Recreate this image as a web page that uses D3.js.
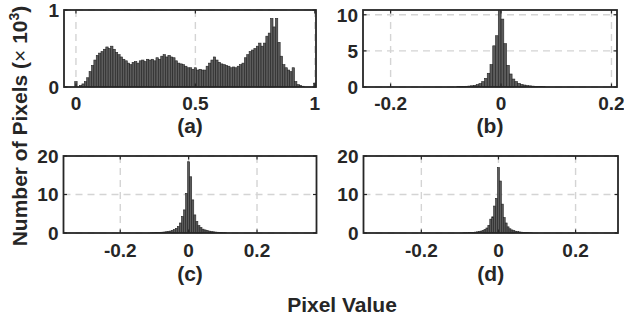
<!DOCTYPE html>
<html><head><meta charset="utf-8">
<script src="https://cdn.jsdelivr.net/npm/d3@7"></script>
<style>
body{margin:0;background:#fff;}
svg{display:block;font-family:"Liberation Sans",Arial,Helvetica,sans-serif;}
</style></head>
<body><svg id="c" width="624" height="320"></svg>
<script>
// ---- Data (counts in thousands of pixels) ----
const panelLabels = ["(a)", "(b)", "(c)", "(d)"];
const xTicksA = [0, 0.5, 1], yTicksA = [0, 1];
const xTicksB = [-0.2, 0, 0.2], yTicksB = [0, 5, 10];
const xTicksC = [-0.2, 0, 0.2], yTicksC = [0, 10, 20];
const xTicksD = [-0.2, 0, 0.2], yTicksD = [0, 10, 20];

// (a) bins of width 0.01 centred at 0.00 ... 1.00
const binWidthA = 0.01, firstCenterA = 0;
const countsA = [
 0.07,0.0,0.02,0.04,0.07,0.12,0.2,0.28,0.35,0.41,
 0.44,0.46,0.49,0.52,0.5,0.53,0.49,0.45,0.42,0.39,
 0.36,0.34,0.31,0.29,0.32,0.33,0.31,0.34,0.35,0.33,
 0.36,0.35,0.36,0.34,0.38,0.36,0.4,0.42,0.39,0.41,
 0.39,0.38,0.34,0.31,0.3,0.29,0.27,0.25,0.25,0.23,
 0.25,0.22,0.23,0.22,0.22,0.27,0.31,0.35,0.39,0.35,
 0.32,0.3,0.29,0.28,0.27,0.25,0.26,0.25,0.27,0.29,
 0.31,0.38,0.42,0.46,0.48,0.5,0.53,0.57,0.53,0.57,
 0.66,0.7,0.89,0.78,0.89,0.58,0.4,0.29,0.25,0.22,
 0.2,0.25,0.07,0.03,0.02,0.01,0,0,0,0,
 0.05];
// (b) bins of width 0.005, first centre -0.0775
const binWidthB = 0.005, firstCenterB = -0.0775;
const countsB = [0.05,0.06,0.08,0.1,0.13,0.17,0.23,0.33,0.47,0.75,1.2,1.9,3.1,5.7,7.1,10.8,
 9.4,6.0,3.0,1.8,1.1,0.75,0.5,0.35,0.27,0.2,0.16,0.12,0.09,0.07,0.05,0.04];
// (c) bins of width 0.006, first centre -0.108
const binWidthC = 0.006, firstCenterC = -0.108;
const countsC = [0.04,0.06,0.09,0.12,0.15,0.2,0.25,0.32,0.4,0.5,0.65,0.86,1.2,1.7,2.6,4.3,6.0,10.3,
 18.5,
 14.6,8.6,4.7,3.0,1.9,1.4,1.0,0.8,0.65,0.5,0.4,0.32,0.25,0.2,0.15,0.1,0.07,0.05];
// (d) bins of width 0.005, first centre -0.09
const binWidthD = 0.005, firstCenterD = -0.09;
const countsD = [0.03,0.05,0.07,0.1,0.13,0.17,0.23,0.3,0.38,0.5,0.65,0.9,1.3,2.0,3.6,4.2,7.0,9.0,
 17.0,
 13.5,7.5,4.0,2.6,1.6,1.1,0.8,0.6,0.45,0.35,0.28,0.22,0.17,0.13,0.1,0.07,0.05];

const xLabel = "Pixel Value";

// ---- Layout ----
const panels = [
 {counts:countsA, w:binWidthA, c0:firstCenterA, xd:[-0.05,1.005], yd:[0,1], box:[64,316,10,87], xt:xTicksA, yt:yTicksA, lab:panelLabels[0], tickY:110, labY:133},
 {counts:countsB, w:binWidthB, c0:firstCenterB, xd:[-0.25,0.21], yd:[0,10.66], box:[363,617,10,87], xt:xTicksB, yt:yTicksB, lab:panelLabels[1], tickY:110, labY:133},
 {counts:countsC, w:binWidthC, c0:firstCenterC, xd:[-0.366,0.374], yd:[0,20], box:[63.5,316.5,156,233], xt:xTicksC, yt:yTicksC, lab:panelLabels[2], tickY:257, labY:281},
 {counts:countsD, w:binWidthD, c0:firstCenterD, xd:[-0.35,0.31], yd:[0,20], box:[363.5,618,156,233], xt:xTicksD, yt:yTicksD, lab:panelLabels[3], tickY:257, labY:281}
];

const svg = d3.select("#c");
const fmt = v => String(v).replace("−","-");
const textCol = "#262626";
const tickFont = 19, labelFont = 21;

panels.forEach((p, i) => {
  const [L, R, T, B] = p.box;
  const x = d3.scaleLinear().domain(p.xd).range([L, R]);
  const y = d3.scaleLinear().domain(p.yd).range([B, T]);
  const g = svg.append("g");
  const clipId = "clip" + i;
  svg.append("clipPath").attr("id", clipId).append("rect")
    .attr("x", L).attr("y", T).attr("width", R - L).attr("height", B - T);

  // grid
  const grid = g.append("g").attr("stroke", "#d4d4d4").attr("stroke-width", 1.4)
    .attr("stroke-dasharray", "7,5");
  p.xt.forEach(t => grid.append("line").attr("x1", x(t)).attr("x2", x(t)).attr("y1", T).attr("y2", B));
  p.yt.forEach(t => grid.append("line").attr("x1", L).attr("x2", R).attr("y1", y(t)).attr("y2", y(t)));

  // bars
  const bars = p.counts.map((v, k) => ({c: p.c0 + k * p.w, v}));
  g.append("g").attr("clip-path", `url(#${clipId})`)
    .selectAll("rect").data(bars).join("rect")
    .attr("x", d => x(d.c - p.w / 2))
    .attr("width", d => x(d.c + p.w / 2) - x(d.c - p.w / 2))
    .attr("y", d => y(d.v))
    .attr("height", d => y(0) - y(d.v))
    .attr("fill", "#5c5c5c").attr("stroke", "#222").attr("stroke-width", 0.6);

  // axes (ticks inward, both sides)
  const tl = 3.5;
  const ax = g.append("g").attr("stroke", textCol).attr("stroke-width", 1.2);
  p.xt.forEach(t => {
    ax.append("line").attr("x1", x(t)).attr("x2", x(t)).attr("y1", B).attr("y2", B - tl);
    ax.append("line").attr("x1", x(t)).attr("x2", x(t)).attr("y1", T).attr("y2", T + tl);
  });
  p.yt.forEach(t => {
    ax.append("line").attr("x1", L).attr("x2", L + tl).attr("y1", y(t)).attr("y2", y(t));
    ax.append("line").attr("x1", R).attr("x2", R - tl).attr("y1", y(t)).attr("y2", y(t));
  });
  g.append("rect").attr("x", L).attr("y", T).attr("width", R - L).attr("height", B - T)
    .attr("fill", "none").attr("stroke", textCol).attr("stroke-width", 1.8);

  // tick labels
  const tg = g.append("g").attr("font-size", tickFont).attr("font-weight", "bold").attr("fill", textCol);
  p.xt.forEach(t => tg.append("text").attr("x", x(t)).attr("y", p.tickY)
    .attr("text-anchor", "middle").text(fmt(t)));
  p.yt.forEach(t => tg.append("text").attr("x", L - 5).attr("y", y(t)).attr("dy", "0.36em")
    .attr("text-anchor", "end").text(fmt(t)));

  // panel label
  g.append("text").attr("x", (L + R) / 2).attr("y", p.labY).attr("text-anchor", "middle")
    .attr("font-size", labelFont).attr("font-weight", "bold").attr("fill", textCol).text(p.lab);
});

// x label
svg.append("text").attr("x", 342).attr("y", 312).attr("text-anchor", "middle")
  .attr("font-size", labelFont).attr("font-weight", "bold").attr("fill", textCol).text(xLabel);

// y label
const yl = svg.append("text").attr("transform", "translate(27,126) rotate(-90)")
  .attr("text-anchor", "middle").attr("font-size", labelFont).attr("font-weight", "bold").attr("fill", textCol);
yl.append("tspan").text("Number of Pixels (");
yl.append("tspan").attr("font-weight", "normal").text("×");
yl.append("tspan").text(" 10");
yl.append("tspan").attr("font-size", 14).attr("dy", "-0.6em").text("3");
yl.append("tspan").attr("dy", "0.4em").text(")");
</script></body></html>
